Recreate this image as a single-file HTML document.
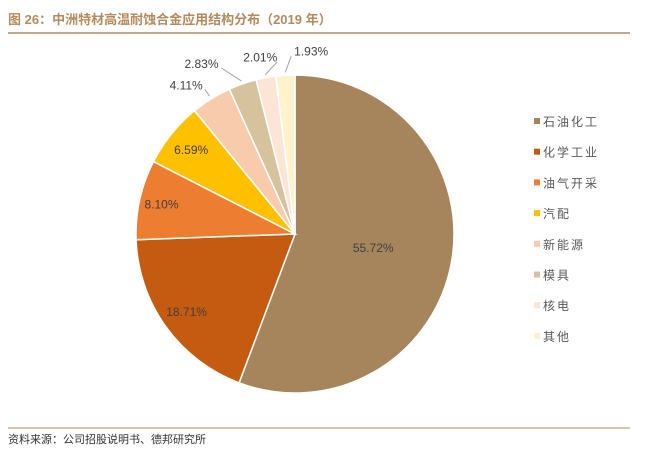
<!DOCTYPE html>
<html><head><meta charset="utf-8">
<style>
body{margin:0;background:#fff;font-family:"Liberation Sans","Noto Sans CJK SC",sans-serif;}
#wrap{position:relative;width:647px;height:456px;overflow:hidden;}
</style></head>
<body><div id="wrap">
<svg id="svg" width="647" height="456" xmlns="http://www.w3.org/2000/svg">
<text x="8" y="24" font-size="13" font-weight="bold" fill="#b48a5e" font-family="Liberation Sans, Noto Sans CJK SC, sans-serif">图 26：中洲特材高温耐蚀合金应用结构分布（2019 年）</text>
<line x1="8" y1="33" x2="630" y2="33" stroke="#b48a5e" stroke-width="1.5"/>
<line x1="8" y1="428" x2="630" y2="428" stroke="#b48a5e" stroke-width="1"/>
<text x="8" y="443" font-size="11" fill="#333">资料来源：公司招股说明书、德邦研究所</text>
<g id="pie"></g>
<g id="legend"></g>
</svg>
</div>
<script>
const categories=["石油化工","化学工业","油气开采","汽配","新能源","模具","核电","其他"];
const values=[55.72,18.71,8.10,6.59,4.11,2.83,2.01,1.93];
const colors=["#a6845c","#c55a11","#ed7d31","#ffc000","#f8cbad","#d6c29c","#fbe5d6","#fff2cc"];
const labelR=[0.5,0.84,0.86,0.84];
const outside=[null,null,null,null,[-5,-7,-2,'end'],[-20,-13,-3,'end'],[12,-13,0,'end'],[6,-16,3,'start']];
const cx=295,cy=234,r=159;
const NS="http://www.w3.org/2000/svg";
const pie=document.getElementById('pie'),leg=document.getElementById('legend');
const total=values.reduce((a,b)=>a+b,0);
function pt(a,rr){return [cx+Math.sin(a)*rr,cy-Math.cos(a)*rr];}
let acc=0;
values.forEach((v,i)=>{
 const a0=acc/total*2*Math.PI;acc+=v;const a1=acc/total*2*Math.PI;
 const p0=pt(a0,r),p1=pt(a1,r);const large=(a1-a0)>Math.PI?1:0;
 const p=document.createElementNS(NS,'path');
 p.setAttribute('d',`M${cx},${cy}L${p0[0]},${p0[1]}A${r},${r} 0 ${large} 1 ${p1[0]},${p1[1]}Z`);
 p.setAttribute('fill',colors[i]);p.setAttribute('stroke','#fff');p.setAttribute('stroke-width','1.5');
 
 
 pie.appendChild(p);
 const am=(a0+a1)/2;
 const t=document.createElementNS(NS,'text');
 t.setAttribute('font-size','12');t.setAttribute('fill','#404040');
 t.textContent=v.toFixed(2)+'%';
 if(outside[i]){
  const o=outside[i];
  const e=pt(am,r+3);const lx=e[0]+o[0],ly=e[1]+o[1];
  const l=document.createElementNS(NS,'polyline');
  l.setAttribute('points',`${e[0]},${e[1]} ${lx},${ly}`);
  l.setAttribute('stroke','#a6a6a6');l.setAttribute('fill','none');
  
  
  pie.appendChild(l);
  t.setAttribute('x',lx+o[2]);t.setAttribute('y',ly+(o[3]==='start'?-1:0));
  t.setAttribute('text-anchor',o[3]);
 }else{
  const q=pt(am,r*labelR[i]);t.setAttribute('x',q[0]);t.setAttribute('y',q[1]+4);t.setAttribute('text-anchor','middle');
 }
 
 
 pie.appendChild(t);
 const y=121+i*30.7;
 const s=document.createElementNS(NS,'rect');
 s.setAttribute('x',534);s.setAttribute('y',y-3);s.setAttribute('width',6);s.setAttribute('height',6);s.setAttribute('fill',colors[i]);
 
 
 leg.appendChild(s);
 const lt=document.createElementNS(NS,'text');
 lt.setAttribute('x',543);lt.setAttribute('y',y+5);lt.setAttribute('font-size','12');lt.setAttribute('fill','#595959');lt.setAttribute('letter-spacing','2');
 lt.textContent=categories[i];
 
 
 leg.appendChild(lt);
});
</script>
</body></html>
